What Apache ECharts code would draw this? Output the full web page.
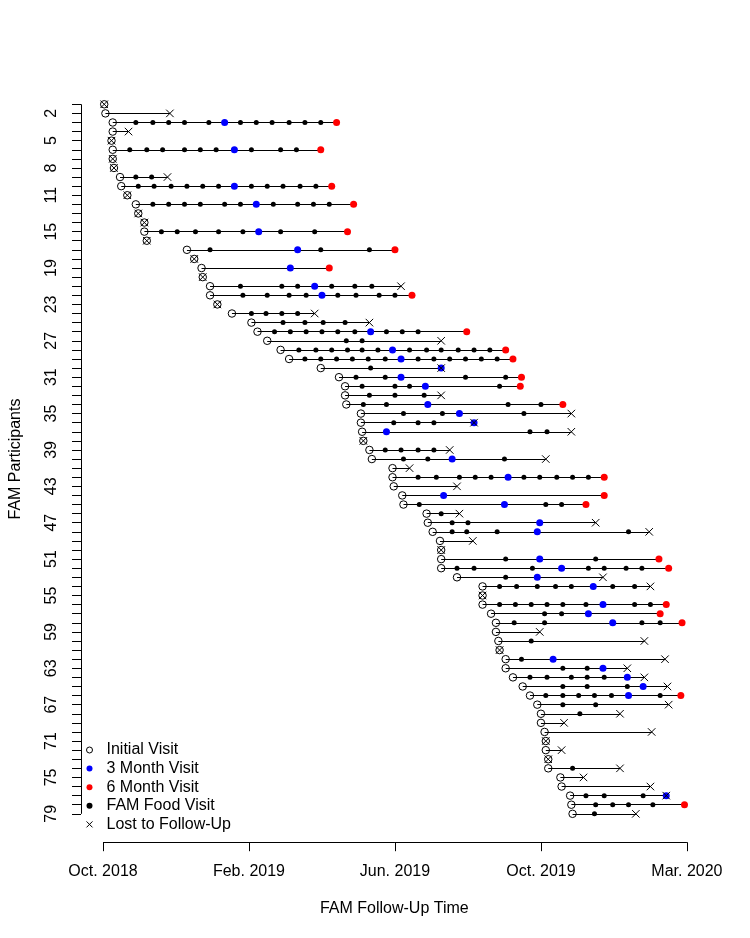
<!DOCTYPE html>
<html>
<head>
<meta charset="utf-8">
<script src="https://cdn.jsdelivr.net/npm/echarts@6/dist/echarts.min.js"></script>
<style>
html,body{margin:0;padding:0;background:#fff;}
#chart{width:750px;height:938px;}
</style>
</head>
<body>
<div id="chart"></div>
<script>
// x values: days of follow-up, 120 days between labelled ticks
const xTickValues = [0, 120, 240, 360, 480];
const xTickLabels = ['Oct. 2018', 'Feb. 2019', 'Jun. 2019', 'Oct. 2019', 'Mar. 2020'];
const yTickLabels = [2, 5, 8, 11, 15, 19, 23, 27, 31, 35, 39, 43, 47, 51, 55, 59, 63, 67, 71, 75, 79];

const initialVisit = [
  1, 2, 8, 8, 7, 8, 8, 9, 14, 15,
  20, 27, 29, 34, 34, 36, 69, 75, 81, 82,
  88, 88, 94, 106, 122, 127, 135, 146, 153, 179,
  194, 199, 199, 200, 212, 212, 213, 214, 219, 221,
  238, 238, 239, 246, 247, 266, 267, 271, 277, 278,
  278, 278, 291, 312, 312, 312, 319, 323, 323, 325,
  326, 331, 331, 337, 345, 351, 357, 360, 360, 363,
  364, 364, 366, 366, 376, 377, 384, 385, 386
];

const threeMonthVisit = [
  null, null, 100, null, null, 108, null, null, null, 108,
  null, 126, null, null, 128, null, 160, null, 154, null,
  174, 180, null, null, null, 220, null, 238, 245, 278,
  245, 265, null, 267, 293, 305, 233, null, null, 287,
  null, 333, null, 280, 330, null, 359, 357, null, null,
  359, 377, 357, 403, null, 411, 399, 419, null, null,
  null, 370, 411, 431, 444, 432, null, null, null, null,
  null, null, null, null, null, null, 463, null, null
];

const sixMonthVisit = [
  null, null, 192, null, null, 179, null, null, null, 188,
  null, 206, null, null, 201, null, 240, null, 186, null,
  null, 254, null, null, null, 299, null, 331, 337, null,
  344, 343, null, 378, null, null, null, null, null, null,
  null, 412, null, 412, 397, null, null, null, null, null,
  457, 465, null, null, null, 463, 458, 476, null, null,
  null, null, null, null, null, 475, null, null, null, null,
  null, null, null, null, null, null, null, 478, null
];

const lostVisit = [
  1, 55, null, 21, 7, null, 8, 9, 53, null,
  20, null, 29, 34, null, 36, null, 75, null, 82,
  245, null, 94, 174, 219, null, 278, null, null, 278,
  null, null, 278, null, 385, 305, 385, 214, 285, 364,
  252, null, 291, null, null, 293, 405, 449, 304, 278,
  null, null, 411, 450, 312, null, null, null, 359, 445,
  326, 462, 431, 445, 464, null, 465, 425, 379, 451,
  364, 377, 366, 425, 395, 450, 463, null, 438
];

const famFoodVisits = [
  [], [], [27,41,54,67,87,113,126,139,153,166,179], [], [], [22,36,49,67,80,93,122,146,159], [], [], [27,40], [29,42,56,69,82,95,122,135,148,162,175],
  [], [41,54,67,80,100,113,140,160,173,186], [], [], [48,61,76,95,115,146,174], [], [88,179,219], [], [], [],
  [113,147,160,188,207,221], [115,135,153,167,193,208,227,240], [], [122,134,147,160], [148,166,181,199], [141,154,167,180,193,207,233,246,259], [200,213], [161,175,188,201,213,226,252,266,278,292,305,318], [166,179,192,205,218,232,259,272,285,298,311,324], [220],
  [208,232,298,331], [213,240,252,326], [219,240,264], [214,233,333,360], [247,279,346], [239,259,272], [351,365], [], [232,245,259,272], [247,267,330],
  [], [259,274,293,306,319,346,359,373,386,399], [], [], [260,364,377], [278], [287,300], [287,299,324,432], [], [],
  [331,405], [291,305,353,399,412,430,443], [331], [326,340,357,372,385,419,437], [], [326,339,352,365,378,397,437,450], [363,377], [338,363,443,458], [], [352],
  [], [344], [378,398], [351,365,385,398,412], [378,398,431], [364,378,391,404,418,458], [378,405], [392], [], [],
  [], [], [], [386], [], [], [397,412,444], [405,419,432,452], [404]
];

const participants = initialVisit.map((_, i) => i + 1);

// build series data
const pts = (arr) => arr.map((v, i) => v == null ? null : [v, participants[i]]).filter(Boolean);
const foodPts = [];
famFoodVisits.forEach((row, i) => row.forEach(v => foodPts.push([v, participants[i]])));
const segments = [];
let allX = [];
participants.forEach((p, i) => {
  const xs = [initialVisit[i], threeMonthVisit[i], sixMonthVisit[i], lostVisit[i]].concat(famFoodVisits[i]).filter(v => v != null);
  allX = allX.concat(xs);
  const s = Math.min(...xs), e = Math.max(...xs);
  if (e > s) segments.push({ coords: [[s, p], [e, p]] });
});
// R-style 4% padding
const dMin = Math.min(...allX), dMax = Math.max(...allX);
const xMin = dMin - 0.04 * (dMax - dMin), xMax = dMax + 0.04 * (dMax - dMin);
const pMin = participants[0], pMax = participants[participants.length - 1];
const yMin = pMin - 0.04 * (pMax - pMin), yMax = pMax + 0.04 * (pMax - pMin);

const FONT = "'Liberation Sans', Arial, sans-serif";
const crossPath = 'path://M0,0L10,10M0,10L10,0';

const chart = echarts.init(document.getElementById('chart'), null, { renderer: 'canvas' });
chart.setOption({
  backgroundColor: '#fff',
  animation: false,
  textStyle: { fontFamily: FONT },
  grid: { left: 77, right: 42.3, top: 75.9, bottom: 95.8, containLabel: false },
  legend: {
    orient: 'vertical', left: 86, top: 742, padding: 0,
    itemWidth: 6, itemHeight: 6, itemGap: 2.6,
    selectedMode: false,
    textStyle: { fontSize: 16, lineHeight: 14, color: '#000', fontFamily: FONT, padding: [0, 0, 0, 9] },
    data: [
      { name: 'Initial Visit', icon: 'circle', itemStyle: { color: 'rgba(0,0,0,0)', borderColor: '#000', borderWidth: 1 } },
      { name: '3 Month Visit', icon: 'circle', itemStyle: { color: '#0000ff', borderWidth: 0 } },
      { name: '6 Month Visit', icon: 'circle', itemStyle: { color: '#ff0000', borderWidth: 0 } },
      { name: 'FAM Food Visit', icon: 'circle', itemStyle: { color: '#000', borderWidth: 0 } },
      { name: 'Lost to Follow-Up', icon: crossPath, itemStyle: { color: 'rgba(0,0,0,0)', borderColor: '#000', borderWidth: 1 } }
    ]
  },
  xAxis: {
    type: 'value', min: xMin, max: xMax, position: 'bottom',
    name: 'FAM Follow-Up Time', nameLocation: 'middle', nameGap: 58,
    nameTextStyle: { fontSize: 16, color: '#000', fontFamily: FONT },
    axisLine: { show: false, onZero: false },
    splitLine: { show: false },
    axisTick: { show: true, length: 9, customValues: xTickValues, lineStyle: { color: '#000', width: 1 } },
    axisLabel: {
      customValues: xTickValues, fontSize: 16, color: '#000', margin: 21, fontFamily: FONT,
      formatter: (v) => xTickLabels[xTickValues.indexOf(v)] || ''
    }
  },
  yAxis: {
    type: 'value', inverse: true, min: yMin, max: yMax, position: 'left',
    name: 'FAM Participants', nameLocation: 'middle', nameGap: 57,
    nameTextStyle: { fontSize: 16, color: '#000', fontFamily: FONT },
    axisLine: { show: false, onZero: false },
    splitLine: { show: false },
    axisTick: { show: true, length: 9, customValues: participants, lineStyle: { color: '#000', width: 1 } },
    axisLabel: {
      customValues: yTickLabels, rotate: 90, fontSize: 16, color: '#000', margin: 21, fontFamily: FONT,
      formatter: (v) => String(v)
    }
  },
  series: [
    { type: 'lines', coordinateSystem: 'cartesian2d', silent: true, z: 1, clip: false,
      lineStyle: { color: '#000', width: 1, opacity: 1 },
      data: [ { coords: [[xTickValues[0], yMax], [xTickValues[xTickValues.length - 1], yMax]] },
              { coords: [[xMin, pMin], [xMin, pMax]] } ] },
    { type: 'lines', coordinateSystem: 'cartesian2d', silent: true, z: 2,
      lineStyle: { color: '#000', width: 1, opacity: 1 }, data: segments },
    { name: 'Initial Visit', type: 'scatter', silent: true, z: 3, symbol: 'circle', symbolSize: 7.5,
      itemStyle: { color: 'rgba(0,0,0,0)', borderColor: '#000', borderWidth: 1, opacity: 1 }, data: pts(initialVisit) },
    { name: 'FAM Food Visit', type: 'scatter', silent: true, z: 4, symbol: 'circle', symbolSize: 5,
      itemStyle: { color: '#000', opacity: 1 }, data: foodPts },
    { name: '3 Month Visit', type: 'scatter', silent: true, z: 5, symbol: 'circle', symbolSize: 7,
      itemStyle: { color: '#0000ff', opacity: 1 }, data: pts(threeMonthVisit) },
    { name: '6 Month Visit', type: 'scatter', silent: true, z: 5, symbol: 'circle', symbolSize: 7,
      itemStyle: { color: '#ff0000', opacity: 1 }, data: pts(sixMonthVisit) },
    { name: 'Lost to Follow-Up', type: 'scatter', silent: true, z: 6, symbol: crossPath, symbolSize: 7.5,
      itemStyle: { color: 'rgba(0,0,0,0)', borderColor: '#000', borderWidth: 1, opacity: 1 }, data: pts(lostVisit) }
  ]
});
</script>
</body>
</html>
